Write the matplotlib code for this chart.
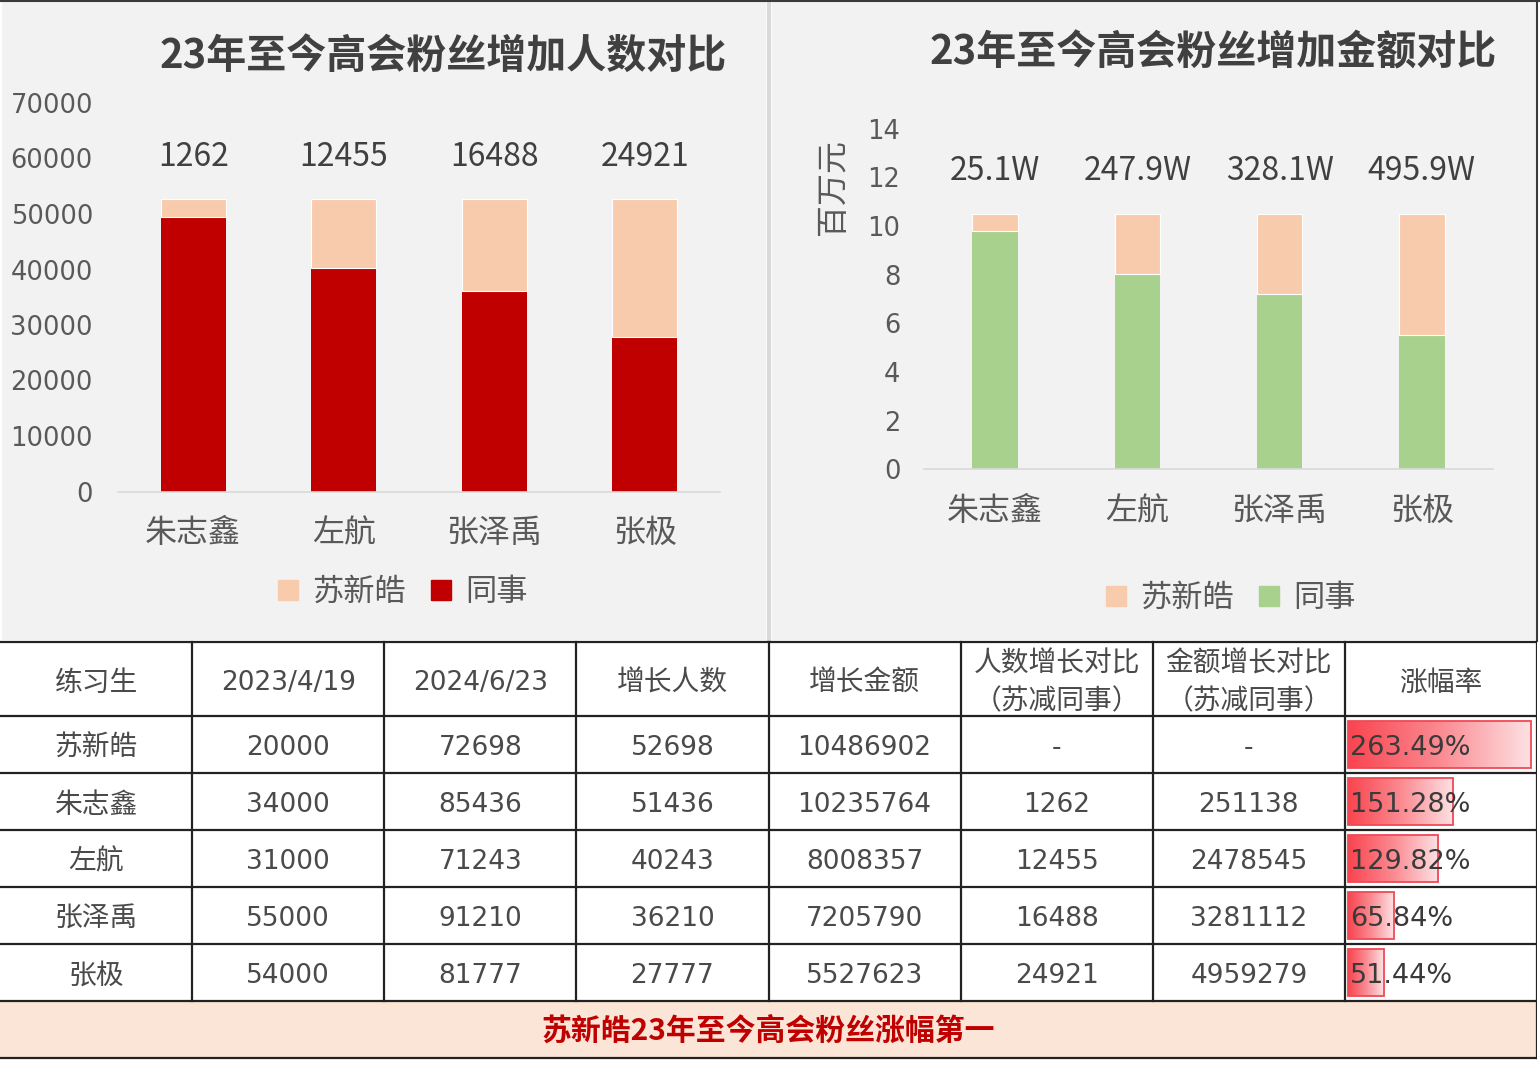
import matplotlib
matplotlib.use('Agg')
import matplotlib.pyplot as plt
import numpy as np
from matplotlib.patches import Rectangle, Patch
from matplotlib.colors import LinearSegmentedColormap

plt.rcParams['font.family'] = ['DejaVu Sans', 'Noto Sans CJK SC']
CJK = ['Noto Sans CJK SC', 'DejaVu Sans']

# ---------------- data ----------------
chart_names = ['朱志鑫', '左航', '张泽禹', '张极']
count_colleague = [49500, 40243, 36210, 27777]
count_su_extra = [3198, 12455, 16488, 24921]
count_labels = ['1262', '12455', '16488', '24921']
count_ticks = [0, 10000, 20000, 30000, 40000, 50000, 60000, 70000]

amount_colleague = [9.80, 8.01, 7.21, 5.53]   # 百万元
amount_su_extra = [0.69, 2.48, 3.28, 4.96]
amount_labels = ['25.1W', '247.9W', '328.1W', '495.9W']
amount_ticks = [0, 2, 4, 6, 8, 10, 12, 14]

legend_labels = ['苏新皓', '同事']
title_left = '23年至今高会粉丝增加人数对比'
title_right = '23年至今高会粉丝增加金额对比'
ylabel_right = '百万元'

header_line1 = ['练习生', '2023/4/19', '2024/6/23', '增长人数', '增长金额', '人数增长对比', '金额增长对比', '涨幅率']
header_line2 = ['', '', '', '', '', '（苏减同事）', '（苏减同事）', '']
trainees = ['苏新皓', '朱志鑫', '左航', '张泽禹', '张极']
fans_2023 = ['20000', '34000', '31000', '55000', '54000']
fans_2024 = ['72698', '85436', '71243', '91210', '81777']
growth = ['52698', '51436', '40243', '36210', '27777']
amount = ['10486902', '10235764', '8008357', '7205790', '5527623']
diff_count = ['-', '1262', '12455', '16488', '24921']
diff_amount = ['-', '251138', '2478545', '3281112', '4959279']
rate_pct = [263.49, 151.28, 129.82, 65.84, 51.44]
rate_labels = ['263.49%', '151.28%', '129.82%', '65.84%', '51.44%']
banner_text = '苏新皓23年至今高会粉丝涨幅第一'

# ---------------- colours ----------------
RED = '#c00000'
PEACH = '#f8cbad'
GREEN = '#a9d18e'
TXT = '#404040'
TICK = '#595959'

W, H = 1540, 1080
fig = plt.figure(figsize=(15.4, 10.8), dpi=100)
fig.patch.set_facecolor('white')


def px_axes(x0, y0, x1, y1, **kw):
    return fig.add_axes([x0 / W, 1 - y1 / H, (x1 - x0) / W, (y1 - y0) / H], **kw)


# background panels
bg = px_axes(0, 0, W, H)
bg.set_xlim(0, W)
bg.set_ylim(H, 0)
bg.axis('off')
bg.set_zorder(-5)
bg.add_patch(Rectangle((2, 2), 764, 638, fc='#f2f2f2', ec='none'))
bg.add_patch(Rectangle((772, 2), 765, 638, fc='#f2f2f2', ec='none'))
bg.plot([769, 769], [0, 641], color='#d9d9d9', lw=3)
bg.plot([0, W], [1, 1], color='#3a3a3a', lw=1.5)
bg.plot([1537, 1537], [0, 641], color='#3a3a3a', lw=1.5)


def style_chart(ax, ticks, pad):
    ax.set_facecolor('none')
    for s in ['left', 'right', 'top']:
        ax.spines[s].set_visible(False)
    ax.spines['bottom'].set_color('#d9d9d9')
    ax.spines['bottom'].set_linewidth(1.2)
    ax.set_yticks(ticks)
    ax.set_yticklabels([str(t) for t in ticks])
    ax.tick_params(axis='y', length=0, pad=pad, labelsize=18.5, labelcolor=TICK)
    ax.tick_params(axis='x', length=0, pad=18.5, labelsize=23, labelcolor=TICK)
    x = np.arange(len(chart_names))
    ax.set_xticks(x)
    ax.set_xticklabels(chart_names, fontfamily=CJK)
    ax.set_xlim(-0.5, len(chart_names) - 0.5)


# ---------------- left chart ----------------
ax1 = px_axes(118, 103, 720, 491.5)
x = np.arange(len(chart_names))
ax1.bar(x, count_colleague, width=0.43, color=RED, zorder=2)
ax1.bar(x, count_su_extra, bottom=count_colleague, width=0.43, color=PEACH,
        edgecolor='white', linewidth=0.8, zorder=2)
ax1.set_ylim(0, 70000)
style_chart(ax1, count_ticks, 18)
for i, lab in enumerate(count_labels):
    ax1.text(i, 60250, lab, ha='center', va='center', fontsize=23, color=TXT, family=CJK)
fig.text(443 / W, 1 - 56 / H, title_left, ha='center', va='center', fontsize=28.8,
         weight='bold', color=TXT, family=CJK)
fig.legend([Patch(color=PEACH), Patch(color=RED)], legend_labels, loc='center',
           bbox_to_anchor=(403 / W, 1 - 592 / H), ncol=2, frameon=False,
           prop={'family': CJK, 'size': 22.5}, handlelength=0.65, handleheight=0.65,
           handletextpad=0.45, columnspacing=0.8, labelcolor=TICK)

# ---------------- right chart ----------------
ax2 = px_axes(924, 128.6, 1493, 469.4)
ax2.bar(x, amount_colleague, width=0.32, color=GREEN, zorder=2)
ax2.bar(x, amount_su_extra, bottom=amount_colleague, width=0.32, color=PEACH,
        edgecolor='white', linewidth=0.8, zorder=2)
ax2.set_ylim(0, 14)
style_chart(ax2, amount_ticks, 17)
for i, lab in enumerate(amount_labels):
    ax2.text(i, 12.25, lab, ha='center', va='center', fontsize=23, color=TXT, family=CJK)
fig.text(1213 / W, 1 - 53 / H, title_right, ha='center', va='center', fontsize=28.8,
         weight='bold', color=TXT, family=CJK)
fig.text(833 / W, 1 - 187 / H, ylabel_right, ha='center', va='center', rotation=90,
         fontsize=23, color=TICK, family=CJK)
fig.legend([Patch(color=PEACH), Patch(color=GREEN)], legend_labels, loc='center',
           bbox_to_anchor=(1231 / W, 1 - 598 / H), ncol=2, frameon=False,
           prop={'family': CJK, 'size': 22.5}, handlelength=0.65, handleheight=0.65,
           handletextpad=0.45, columnspacing=0.8, labelcolor=TICK)

# ---------------- table ----------------
tab = px_axes(0, 0, 1537, H)
tab.set_facecolor('none')
tab.axis('off')
ncol = 8
row_lines = [642, 716, 773, 830, 887, 944, 1001, 1058]
tab.add_patch(Rectangle((0, 642), ncol, 359, fc='white', ec='none', zorder=0))
tab.add_patch(Rectangle((0, 1001), ncol, 57, fc='#fbe5d6', ec='none', zorder=0))
LINE = '#222222'
for y in row_lines:
    tab.plot([0, ncol], [y, y], color=LINE, lw=1.6, zorder=4)
for c in range(1, ncol + 1):
    tab.plot([c, c], [642, 1001], color=LINE, lw=1.6, zorder=4)
tab.plot([ncol, ncol], [1001, 1058], color=LINE, lw=1.6, zorder=4)

TTXT = '#4a4a4a'
# header
hc = (row_lines[0] + row_lines[1]) / 2 + 4
for c in range(ncol):
    fam = CJK if not header_line1[c][0].isdigit() else ['DejaVu Sans', 'Noto Sans CJK SC']
    size = 20 if fam == CJK else 19
    if header_line2[c]:
        tab.text(c + 0.5, 664, header_line1[c], ha='center', va='center', fontsize=size,
                 color=TTXT, family=fam, zorder=5)
        tab.text(c + 0.5, 701, header_line2[c], ha='center', va='center', fontsize=size,
                 color=TTXT, family=fam, zorder=5)
    else:
        tab.text(c + 0.5, hc, header_line1[c], ha='center', va='center', fontsize=size,
                 color=TTXT, family=fam, zorder=5)

cols = [trainees, fans_2023, fans_2024, growth, amount, diff_count, diff_amount]
cmap = LinearSegmentedColormap.from_list('bar', ['#f9444f', '#fb8a91', '#fde2e4'])
grad = np.linspace(0, 1, 256).reshape(1, -1)
max_rate = max(rate_pct)
for r in range(len(trainees)):
    top = row_lines[r + 1]
    bot = row_lines[r + 2]
    yc = (top + bot) / 2 + 3.5
    for c, colvals in enumerate(cols):
        v = colvals[r]
        if c == 0:
            tab.text(c + 0.5, yc, v, ha='center', va='center', fontsize=20, color=TTXT,
                     family=CJK, zorder=5)
        else:
            tab.text(c + 0.5, yc, v, ha='center', va='center', fontsize=19, color=TTXT,
                     zorder=5)
    # data bar
    x0 = 7 + 3 / 192.1
    w = 0.953 * rate_pct[r] / max_rate
    tab.imshow(grad, cmap=cmap, extent=(x0, x0 + w, bot - 5, top + 5), aspect='auto',
               zorder=2, interpolation='bilinear')
    tab.add_patch(Rectangle((x0, top + 5), w, (bot - top) - 10, fc='none', ec='#f04a55',
                            lw=1.3, zorder=3))
    tab.text(7 + 0.025, yc, rate_labels[r], ha='left', va='center', fontsize=19.5,
             color='#3a3a3a', zorder=5)

tab.text(4, (row_lines[-2] + row_lines[-1]) / 2 + 1, banner_text, ha='center', va='center',
         fontsize=21.5, weight='bold', color=RED, family=CJK, zorder=5)
tab.set_xlim(0, ncol)
tab.set_ylim(H, 0)

fig.savefig('out.png', dpi=100, facecolor='white')
